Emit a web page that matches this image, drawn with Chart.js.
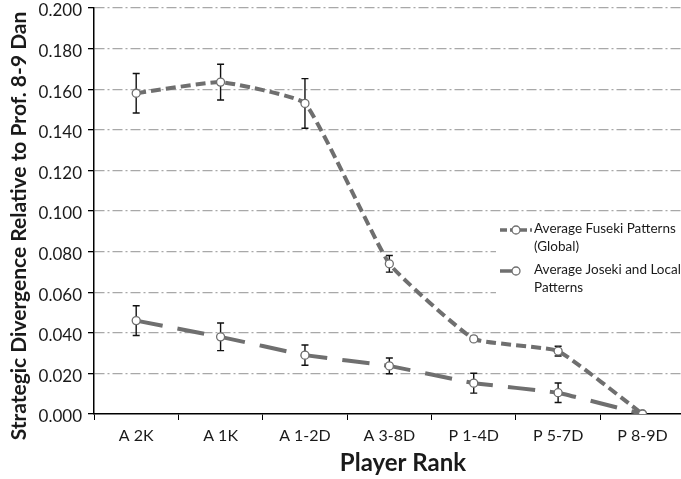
<!DOCTYPE html>
<html><head><meta charset="utf-8">
<script src="https://cdn.jsdelivr.net/npm/chart.js@4/dist/chart.umd.min.js"></script>
<style>
html,body{margin:0;padding:0;background:#fff;overflow:hidden}
#wrap{width:690px;height:479px;position:relative}
</style></head><body>
<div id="wrap"><canvas id="chart"></canvas></div>
<script>
// data
const ranks = ['A 2K','A 1K','A 1-2D','A 3-8D','P 1-4D','P 5-7D','P 8-9D'];
const fuseki    = [0.158, 0.1635, 0.153, 0.074, 0.037, 0.031, 0.000];
const fusekiErr = [0.0097, 0.0088, 0.0122, 0.0041, 0.0012, 0.0024, 0];
const joseki    = [0.046, 0.038, 0.029, 0.0237, 0.0152, 0.0105, 0.000];
const josekiErr = [0.0073, 0.0068, 0.005, 0.0039, 0.0049, 0.0048, 0];
const seriesNames = [['Average Fuseki Patterns','(Global)'], ['Average Joseki and Local','Patterns']];
const yTitle = 'Strategic Divergence Relative to Prof. 8-9 Dan';
const xTitle = 'Player Rank';

const LINE='#6f6f6f', TXT='#1a1a1a', FONT='Lato';

// error bars, drawn under the lines/markers
const errBars = {
  id:'errBars',
  beforeDatasetsDraw(chart){
    const {ctx, scales:{x,y}} = chart;
    const sets = [[fuseki,fusekiErr],[joseki,josekiErr]];
    ctx.save(); ctx.strokeStyle='#111'; ctx.lineWidth=1.4;
    for(const [vals,errs] of sets){
      vals.forEach((v,i)=>{
        if(!errs[i]) return;
        const px=x.getPixelForValue(i), t=y.getPixelForValue(v+errs[i]), b=y.getPixelForValue(v-errs[i]);
        ctx.beginPath();
        ctx.moveTo(px,t); ctx.lineTo(px,b);
        ctx.moveTo(px-3.5,t); ctx.lineTo(px+3.5,t);
        ctx.moveTo(px-3.5,b); ctx.lineTo(px+3.5,b);
        ctx.stroke();
      });
    }
    ctx.restore();
  }
};

// legend box + axis titles
const extras = {
  id:'extras',
  afterDraw(chart){
    const {ctx} = chart;
    ctx.save();
    // legend
    ctx.fillStyle='#fff'; ctx.fillRect(496,214,200,92);
    const samples=[{y:230,dash:[7,3],x1:500,x2:532,cx:516},{y:271,dash:[14,6],x1:500,x2:516,cx:516}];
    samples.forEach((s,k)=>{
      ctx.strokeStyle=LINE; ctx.lineWidth=3.5; ctx.setLineDash(s.dash);
      ctx.beginPath(); ctx.moveTo(s.x1,s.y); ctx.lineTo(s.x2,s.y); ctx.stroke();
      ctx.setLineDash([]);
      ctx.beginPath(); ctx.arc(s.cx,s.y,4,0,Math.PI*2);
      ctx.fillStyle='#fff'; ctx.fill(); ctx.lineWidth=1.3; ctx.strokeStyle=LINE; ctx.stroke();
      ctx.fillStyle=TXT; ctx.font=`13.5px ${FONT}`; ctx.textAlign='left'; ctx.textBaseline='middle';
      seriesNames[k].forEach((ln,j)=>ctx.fillText(ln,534,s.y-1+j*17.5));
    });
    // axis titles
    ctx.fillStyle=TXT; ctx.textAlign='center'; ctx.textBaseline='middle';
    ctx.font=`bold 24px ${FONT}`;
    ctx.fillText(xTitle,403,463);
    ctx.translate(19,226); ctx.rotate(-Math.PI/2);
    ctx.font=`bold 21px ${FONT}`;
    ctx.fillText(yTitle,0,0);
    ctx.restore();
  }
};

new Chart(document.getElementById('chart'),{
  type:'line',
  data:{
    labels:ranks,
    datasets:[
      { label:seriesNames[0].join(' '), data:fuseki, borderColor:LINE, borderWidth:4, borderDash:[10,5],
        tension:0.12, pointRadius:4, pointBorderWidth:1.3, pointBackgroundColor:'#fff', pointBorderColor:LINE },
      { label:seriesNames[1].join(' '), data:joseki, borderColor:LINE, borderWidth:4, borderDash:[27,15],
        tension:0.05, pointRadius:4, pointBorderWidth:1.3, pointBackgroundColor:'#fff', pointBorderColor:LINE }
    ]
  },
  options:{
    responsive:true, maintainAspectRatio:false, animation:false,
    layout:{ padding:{ top:8, right:4, left:0, bottom:0 } },
    plugins:{ legend:{display:false}, tooltip:{enabled:false} },
    scales:{
      x:{
        offset:true,
        grid:{ offset:true, drawOnChartArea:false, color:'#000', tickColor:'#000', tickLength:6 },
        border:{ color:'#000', width:1.5 },
        ticks:{ color:TXT, font:{family:FONT,size:16}, padding:6, maxRotation:0 },
        afterFit(s){ s.height=65; s.paddingLeft=0; s.paddingRight=0; }
      },
      y:{
        min:0, max:0.2,
        grid:{ color:c=>c.tick.value===0?'rgba(0,0,0,0)':'#a8a8a8', lineWidth:1.3, tickColor:'#000', tickLength:6 },
        border:{ color:'#000', width:1.5, dash:[10,3,2,3] },
        ticks:{ stepSize:0.02, color:TXT, font:{family:FONT,size:17}, padding:6, labelOffset:3, callback:v=>v.toFixed(3) },
        afterFit(s){ s.width=94; s.paddingTop=0; s.paddingBottom=0; }
      }
    }
  },
  plugins:[errBars, extras]
});
</script>
</body></html>
